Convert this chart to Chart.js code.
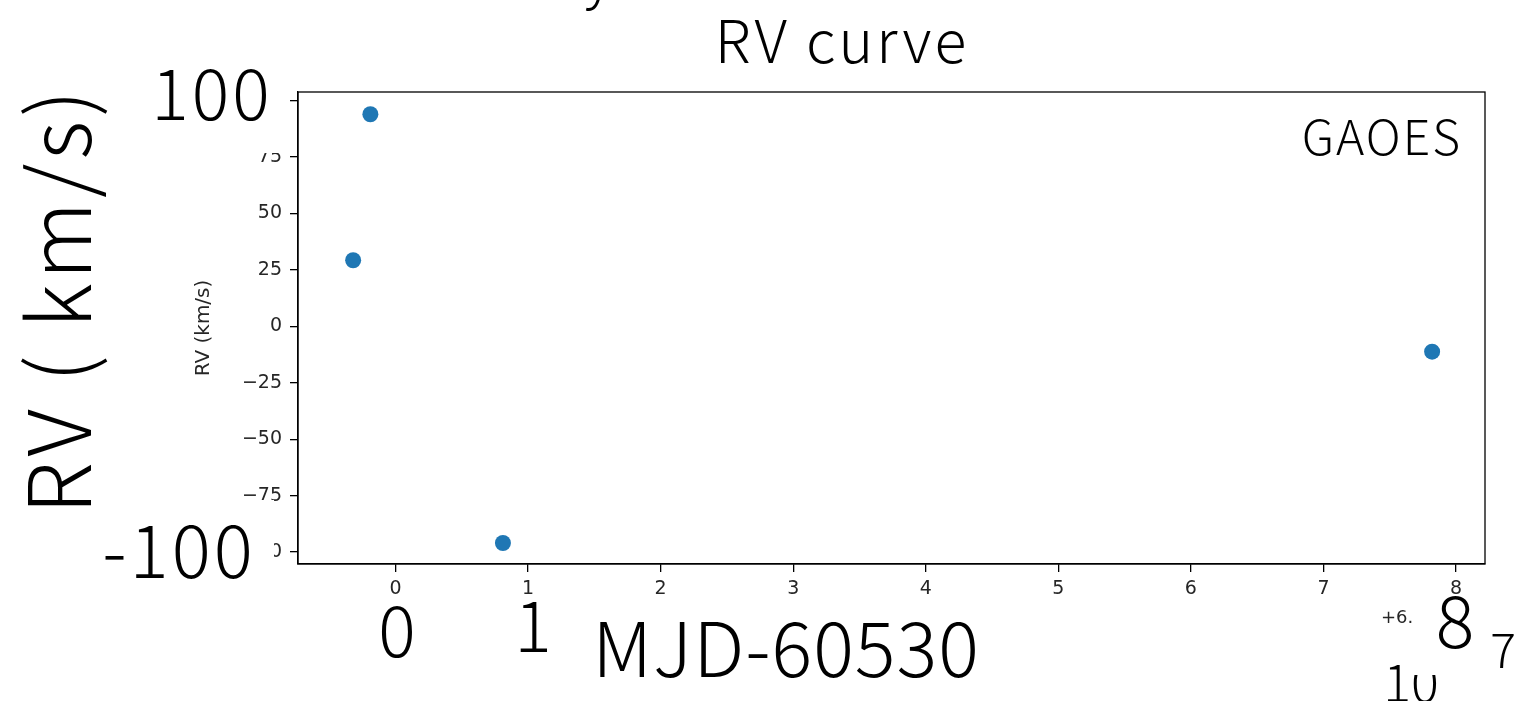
<!DOCTYPE html>
<html>
<head>
<meta charset="utf-8">
<script src="https://cdn.jsdelivr.net/npm/chart.js@4"></script>
<style>
  html, body { margin: 0; padding: 0; background: #fff; }
  #wrap { width: 1514px; height: 701px; position: relative; }
</style>
</head>
<body>
<div id="wrap"><canvas id="myChart"></canvas></div>
<script>
'use strict';

// MJD - 60530 and radial velocity (km/s)
const mjd = [-0.32, -0.19, 0.81, 7.82];
const rv = [29.3, 94.0, -96.0, -11.2];
const xTicks = [0, 1, 2, 3, 4, 5, 6, 7, 8];
const yTicks = [-100, -75, -50, -25, 0, 25, 50, 75, 100];

const BIG = '"Noto Sans CJK JP", "Noto Sans", sans-serif';
const SMALL = '"DejaVu Sans", sans-serif';

var points = [];
for (var i = 0; i < mjd.length; ++i) {
    points.push({ x: mjd[i], y: rv[i] });
}

// big labels pasted over the plot
const overlay = {
    id: 'overlay',
    afterDraw(chart) {
        const c = chart.ctx;
        c.save();
        // white boxes hiding the small labels behind the big ones
        c.fillStyle = '#fff';
        c.fillRect(140, 55, 146, 98);
        c.fillRect(95, 500, 179, 90);
        c.fillStyle = '#000';
        c.textBaseline = 'alphabetic';

        function txt(s, x, y, size, align, spacing) {
            c.font = '300 ' + size + 'px ' + BIG;
            c.letterSpacing = (spacing || 0) + 'px';
            c.textAlign = align || 'center';
            c.fillText(s, x, y);
        }
        txt('RV curve', 842, 63, 59, 'center', 3);
        txt('y', 598, -2, 56);
        txt('100', 212, 120, 70, 'center', 3);
        txt('-100', 179, 578, 73, 'center', 3);
        txt('0', 397, 657, 70);
        txt('1', 533, 652, 70);
        txt('MJD-60530', 786, 677, 76, 'center', 1);
        txt('8', 1455, 648, 72);
        txt('7', 1503, 668, 48);
        txt('10', 1411, 702, 52);
        c.fillStyle = '#fff';
        c.fillRect(1414, 655, 30, 20);
        c.fillStyle = '#000';
        txt('GAOES', 1462, 155, 48, 'right', 2);

        c.letterSpacing = '0px';
        c.font = '18px ' + SMALL;
        c.fillStyle = '#262626';
        c.textAlign = 'left';
        c.fillText('+6.', 1381, 623);

        c.save();
        c.translate(91, 300);
        c.rotate(-Math.PI / 2);
        c.fillStyle = '#000';
        txt('RV ( km/s)', 0, 0, 86, 'center', 4);
        c.restore();
        c.restore();
    }
};

const ctx = document.getElementById('myChart').getContext('2d');

const myChart = new Chart(ctx, {
    type: 'scatter',
    data: {
        datasets: [{
            label: 'GAOES',
            data: points,
            backgroundColor: '#1f77b4',
            borderWidth: 0,
            pointRadius: 8,
            pointHoverRadius: 8
        }]
    },
    plugins: [overlay],
    options: {
        responsive: true,
        maintainAspectRatio: false,
        animation: false,
        layout: {
            padding: { left: 188, top: 92, right: 29, bottom: 0 }
        },
        plugins: {
            legend: { display: false },
            tooltip: { enabled: false }
        },
        scales: {
            x: {
                type: 'linear',
                min: -0.736,
                max: 8.219,
                afterBuildTicks: function (scale) {
                    scale.ticks = xTicks.map(v => ({ value: v }));
                },
                afterFit: function (scale) {
                    scale.height = 137;
                },
                ticks: {
                    padding: 6,
                    color: '#262626',
                    font: { family: SMALL, size: 19 },
                    maxRotation: 0,
                    callback: v => String(v)
                },
                grid: {
                    drawOnChartArea: false,
                    drawTicks: true,
                    tickLength: 8,
                    color: '#000',
                    lineWidth: 1.3
                },
                border: { display: true, color: '#000', width: 1.3 }
            },
            y: {
                type: 'linear',
                min: -105.3,
                max: 103.85,
                afterBuildTicks: function (scale) {
                    scale.ticks = yTicks.map(v => ({ value: v }));
                },
                afterFit: function (scale) {
                    scale.width = 110;
                },
                ticks: {
                    padding: 8,
                    color: '#262626',
                    font: { family: SMALL, size: 19 },
                    callback: v => (v < 0 ? '\u2212' + Math.abs(v) : String(v))
                },
                title: {
                    display: true,
                    text: 'RV (km/s)',
                    color: '#262626',
                    font: { family: SMALL, size: 20 },
                    padding: { top: 4, bottom: 0 }
                },
                grid: {
                    drawOnChartArea: false,
                    drawTicks: true,
                    tickLength: 8,
                    color: '#000',
                    lineWidth: 1.3
                },
                border: { display: true, color: '#000', width: 1.3 }
            }
        }
    },
});

// right and top spines
Chart.register({
    id: 'spines',
    afterDatasetsDraw(chart) {
        const a = chart.chartArea;
        const c = chart.ctx;
        c.save();
        c.strokeStyle = '#000';
        c.lineWidth = 1.3;
        c.strokeRect(a.left, a.top, a.right - a.left, a.bottom - a.top);
        c.restore();
    }
});
myChart.update();
</script>
</body>
</html>
